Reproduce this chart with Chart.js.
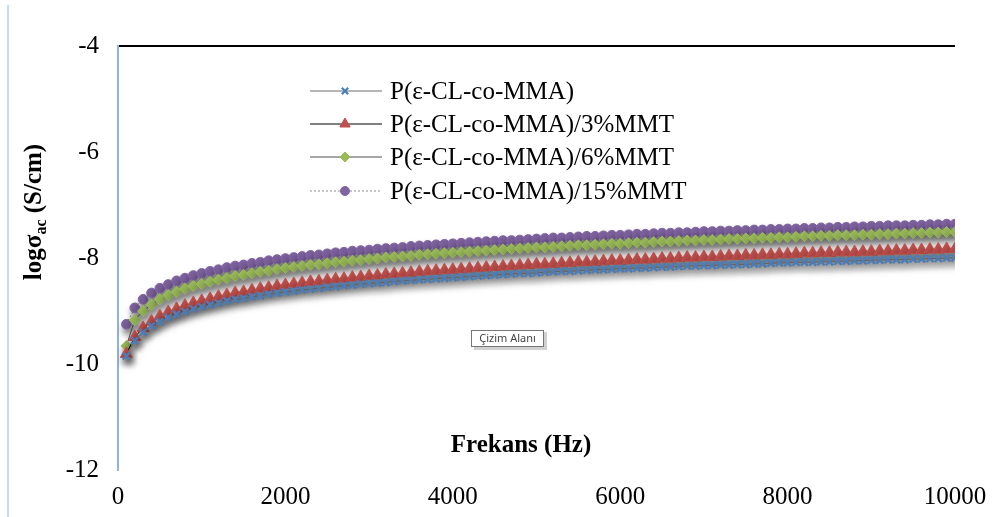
<!DOCTYPE html>
<html lang="tr">
<head>
    <meta charset="UTF-8">
    <title>logσac - Frekans</title>
    <script src="https://cdn.jsdelivr.net/npm/chart.js"></script>
    <style>
        body { margin: 0; background: #fff; }
        #kutu { position: relative; width: 992px; height: 517px; }
        #kenar { position: absolute; left: 7px; top: 5px; width: 2px; height: 512px; background: #c6d9f1; }
    </style>
</head>
<body>
    <div id="kutu">
        <canvas id="grafik" width="992" height="517"></canvas>
        <div id="kenar"></div>
    </div>

<script>
    // frekans (Hz)
    const frekans = [
        100, 200, 300, 400, 500, 600, 700, 800, 900, 1000,
        1100, 1200, 1300, 1400, 1500, 1600, 1700, 1800, 1900, 2000,
        2100, 2200, 2300, 2400, 2500, 2600, 2700, 2800, 2900, 3000,
        3100, 3200, 3300, 3400, 3500, 3600, 3700, 3800, 3900, 4000,
        4100, 4200, 4300, 4400, 4500, 4600, 4700, 4800, 4900, 5000,
        5100, 5200, 5300, 5400, 5500, 5600, 5700, 5800, 5900, 6000,
        6100, 6200, 6300, 6400, 6500, 6600, 6700, 6800, 6900, 7000,
        7100, 7200, 7300, 7400, 7500, 7600, 7700, 7800, 7900, 8000,
        8100, 8200, 8300, 8400, 8500, 8600, 8700, 8800, 8900, 9000,
        9100, 9200, 9300, 9400, 9500, 9600, 9700, 9800, 9900, 10000
    ];

    // log sigma_ac (S/cm)
    const saf = [
        -9.85, -9.56, -9.40, -9.28, -9.20, -9.12, -9.06, -9.01, -8.96, -8.92,
        -8.88, -8.85, -8.81, -8.78, -8.76, -8.73, -8.71, -8.68, -8.66, -8.64,
        -8.62, -8.60, -8.59, -8.57, -8.55, -8.54, -8.52, -8.51, -8.49, -8.48,
        -8.47, -8.46, -8.44, -8.43, -8.42, -8.41, -8.40, -8.39, -8.38, -8.37,
        -8.36, -8.35, -8.34, -8.33, -8.32, -8.31, -8.30, -8.29, -8.29, -8.28,
        -8.27, -8.26, -8.25, -8.25, -8.24, -8.23, -8.22, -8.22, -8.21, -8.20,
        -8.20, -8.19, -8.19, -8.18, -8.17, -8.17, -8.16, -8.15, -8.15, -8.14,
        -8.14, -8.13, -8.13, -8.12, -8.12, -8.11, -8.11, -8.10, -8.09, -8.09,
        -8.08, -8.08, -8.08, -8.07, -8.07, -8.06, -8.06, -8.05, -8.05, -8.04,
        -8.04, -8.03, -8.03, -8.03, -8.02, -8.02, -8.01, -8.01, -8.00, -8.00
    ];

    const mmt3 = [
        -9.81, -9.49, -9.32, -9.20, -9.10, -9.02, -8.96, -8.90, -8.85, -8.81,
        -8.77, -8.73, -8.70, -8.66, -8.64, -8.61, -8.58, -8.56, -8.53, -8.51,
        -8.49, -8.47, -8.45, -8.44, -8.42, -8.40, -8.39, -8.37, -8.36, -8.34,
        -8.33, -8.31, -8.30, -8.29, -8.28, -8.26, -8.25, -8.24, -8.23, -8.22,
        -8.21, -8.20, -8.19, -8.18, -8.17, -8.16, -8.15, -8.14, -8.13, -8.12,
        -8.12, -8.11, -8.10, -8.09, -8.08, -8.08, -8.07, -8.06, -8.05, -8.05,
        -8.04, -8.03, -8.03, -8.02, -8.01, -8.01, -8.00, -7.99, -7.99, -7.98,
        -7.98, -7.97, -7.96, -7.96, -7.95, -7.95, -7.94, -7.94, -7.93, -7.93,
        -7.92, -7.91, -7.91, -7.90, -7.90, -7.89, -7.89, -7.89, -7.88, -7.88,
        -7.87, -7.87, -7.86, -7.86, -7.85, -7.85, -7.84, -7.84, -7.83, -7.83
    ];

    const mmt6 = [
        -9.66, -9.17, -9.00, -8.88, -8.78, -8.70, -8.64, -8.58, -8.53, -8.49,
        -8.45, -8.41, -8.38, -8.34, -8.32, -8.29, -8.26, -8.24, -8.21, -8.19,
        -8.17, -8.15, -8.13, -8.12, -8.10, -8.08, -8.07, -8.05, -8.04, -8.02,
        -8.01, -7.99, -7.98, -7.97, -7.96, -7.94, -7.93, -7.92, -7.91, -7.90,
        -7.89, -7.88, -7.87, -7.86, -7.85, -7.84, -7.83, -7.82, -7.81, -7.80,
        -7.80, -7.79, -7.78, -7.77, -7.76, -7.76, -7.75, -7.74, -7.73, -7.73,
        -7.72, -7.71, -7.71, -7.70, -7.69, -7.69, -7.68, -7.67, -7.67, -7.66,
        -7.66, -7.65, -7.64, -7.64, -7.63, -7.63, -7.62, -7.62, -7.61, -7.61,
        -7.60, -7.59, -7.59, -7.58, -7.58, -7.57, -7.57, -7.57, -7.56, -7.56,
        -7.55, -7.55, -7.54, -7.54, -7.53, -7.53, -7.52, -7.52, -7.51, -7.51
    ];

    const mmt15 = [
        -9.25, -8.94, -8.78, -8.66, -8.57, -8.50, -8.43, -8.38, -8.33, -8.29,
        -8.25, -8.22, -8.18, -8.15, -8.13, -8.10, -8.08, -8.05, -8.03, -8.01,
        -7.99, -7.97, -7.95, -7.94, -7.92, -7.90, -7.89, -7.87, -7.86, -7.85,
        -7.83, -7.82, -7.81, -7.80, -7.78, -7.77, -7.76, -7.75, -7.74, -7.73,
        -7.72, -7.71, -7.70, -7.69, -7.68, -7.67, -7.67, -7.66, -7.65, -7.64,
        -7.63, -7.62, -7.62, -7.61, -7.60, -7.59, -7.59, -7.58, -7.57, -7.57,
        -7.56, -7.55, -7.55, -7.54, -7.53, -7.53, -7.52, -7.52, -7.51, -7.50,
        -7.50, -7.49, -7.49, -7.48, -7.48, -7.47, -7.47, -7.46, -7.46, -7.45,
        -7.45, -7.44, -7.44, -7.43, -7.43, -7.42, -7.42, -7.41, -7.41, -7.40,
        -7.40, -7.39, -7.39, -7.39, -7.38, -7.38, -7.37, -7.37, -7.36, -7.36
    ];

    const seriAdlari = [
        'P(ε-CL-co-MMA)',
        'P(ε-CL-co-MMA)/3%MMT',
        'P(ε-CL-co-MMA)/6%MMT',
        'P(ε-CL-co-MMA)/15%MMT'
    ];

    const xTikler = [0, 2000, 4000, 6000, 8000, 10000];
    const yTikler = [-12, -10, -8, -6, -4];

    const yazi = '"Liberation Serif", "Times New Roman", serif';

    function noktalar(dizi) {
        return dizi.map(function (v, i) { return { x: frekans[i], y: v }; });
    }

    const seriler = [
        { label: seriAdlari[0], data: noktalar(saf), borderColor: '#6f6f6f', borderWidth: 1,
          pointStyle: 'crossRot', pointRadius: 5, pointBorderWidth: 2.2,
          pointBorderColor: '#4a7ebb', pointBackgroundColor: '#4a7ebb' },
        { label: seriAdlari[1], data: noktalar(mmt3), borderColor: '#000000', borderWidth: 1,
          pointStyle: 'triangle', pointRadius: 7, pointBorderWidth: 1,
          pointBorderColor: '#c0504d', pointBackgroundColor: '#c0504d' },
        { label: seriAdlari[2], data: noktalar(mmt6), borderColor: '#4d4d4d', borderWidth: 1,
          pointStyle: 'rectRot', pointRadius: 5.5, pointBorderWidth: 1,
          pointBorderColor: '#9bbb59', pointBackgroundColor: '#9bbb59' },
        { label: seriAdlari[3], data: noktalar(mmt15), borderColor: '#8c8c8c', borderWidth: 1, borderDash: [2, 2],
          pointStyle: 'circle', pointRadius: 4.8, pointBorderWidth: 1,
          pointBorderColor: '#8064a2', pointBackgroundColor: '#8064a2' }
    ];

    // seri golgesi
    const golge = {
        id: 'golge',
        beforeDatasetsDraw(chart) {
            const ctx = chart.ctx;
            ctx.save();
            ctx.shadowColor = 'rgba(0,0,0,0.6)';
            ctx.shadowBlur = 7;
            ctx.shadowOffsetX = 2;
            ctx.shadowOffsetY = 5;
        },
        afterDatasetsDraw(chart) {
            chart.ctx.restore();
        }
    };

    // gosterge, eksen basliklari, ipucu kutusu
    const ekler = {
        id: 'ekler',
        afterDraw(chart) {
            const ctx = chart.ctx;
            const satirY = [91, 124, 157, 191];
            const legendRadius = [4.5, 6, 5, 4.5];

            ctx.save();
            chart.data.datasets.forEach(function (ds, i) {
                const y = satirY[i];
                ctx.beginPath();
                ctx.setLineDash(ds.borderDash || []);
                ctx.strokeStyle = ds.borderColor;
                ctx.lineWidth = 1;
                ctx.moveTo(310, y);
                ctx.lineTo(382, y);
                ctx.stroke();
                ctx.setLineDash([]);

                ctx.fillStyle = ds.pointBackgroundColor;
                ctx.strokeStyle = ds.pointBorderColor;
                ctx.lineWidth = ds.pointBorderWidth;
                Chart.helpers.drawPoint(ctx, {
                    pointStyle: ds.pointStyle, rotation: 0,
                    radius: legendRadius[i], borderWidth: ds.pointBorderWidth
                }, 345, y);

                ctx.fillStyle = '#000';
                ctx.font = '25px ' + yazi;
                ctx.textAlign = 'left';
                ctx.textBaseline = 'middle';
                ctx.fillText(ds.label, 390, y + 1);
            });

            // x ekseni basligi (cizim alaninin icinde)
            ctx.font = 'bold 25px ' + yazi;
            ctx.textAlign = 'center';
            ctx.textBaseline = 'middle';
            ctx.fillStyle = '#000';
            ctx.fillText('Frekans (Hz)', 521, 446);

            // y ekseni basligi: log σ_ac (S/cm)
            ctx.save();
            ctx.translate(33, 212);
            ctx.rotate(-Math.PI / 2);
            ctx.textBaseline = 'alphabetic';
            ctx.textAlign = 'left';
            const p1 = 'logσ', p2 = 'ac', p3 = ' (S/cm)';
            ctx.font = 'bold 25px ' + yazi;
            const w1 = ctx.measureText(p1).width;
            const w3 = ctx.measureText(p3).width;
            ctx.font = 'bold 16px ' + yazi;
            const w2 = ctx.measureText(p2).width;
            let x0 = -(w1 + w2 + w3) / 2;
            ctx.font = 'bold 25px ' + yazi;
            ctx.fillText(p1, x0, 8);
            ctx.font = 'bold 16px ' + yazi;
            ctx.fillText(p2, x0 + w1, 13);
            ctx.font = 'bold 25px ' + yazi;
            ctx.fillText(p3, x0 + w1 + w2, 8);
            ctx.restore();

            // Çizim Alanı ipucu
            ctx.fillStyle = 'rgba(0,0,0,0.18)';
            ctx.fillRect(474, 332, 73, 18);
            ctx.fillStyle = '#fff';
            ctx.fillRect(471, 330, 73, 17);
            ctx.strokeStyle = '#767676';
            ctx.lineWidth = 1;
            ctx.strokeRect(471.5, 330.5, 72, 16);
            ctx.fillStyle = '#444';
            ctx.font = '11px "Noto Sans", "Open Sans", sans-serif';
            ctx.textAlign = 'center';
            ctx.textBaseline = 'middle';
            ctx.fillText('Çizim Alanı', 507.5, 339);
            ctx.restore();
        }
    };

    new Chart(document.getElementById('grafik'), {
        type: 'line',
        data: { datasets: seriler },
        options: {
            responsive: false,
            animation: false,
            layout: { padding: { top: 46, right: 37, bottom: 0, left: 0 } },
            plugins: { legend: { display: false }, tooltip: { enabled: false } },
            scales: {
                x: {
                    type: 'linear',
                    min: 0,
                    max: 10000,
                    afterFit(scale) {
                        scale.height = 47;
                        scale.paddingLeft = 0;
                        scale.paddingRight = 0;
                    },
                    afterBuildTicks(scale) { scale.ticks = xTikler.map(function (v) { return { value: v }; }); },
                    grid: { display: false, drawTicks: false },
                    border: { display: false },
                    ticks: {
                        color: '#000', padding: 12, maxRotation: 0,
                        font: { family: yazi, size: 25 },
                        callback: function (v) { return String(v); }
                    }
                },
                y: {
                    min: -12,
                    max: -4,
                    afterFit(scale) {
                        scale.width = 118;
                        scale.paddingTop = 0;
                        scale.paddingBottom = 0;
                    },
                    afterBuildTicks(scale) { scale.ticks = yTikler.map(function (v) { return { value: v }; }); },
                    grid: {
                        drawTicks: false,
                        color: function (c) { return c.tick && c.tick.value === -4 ? '#000' : 'rgba(0,0,0,0)'; },
                        lineWidth: 2
                    },
                    border: { display: true, color: '#8db3e2', width: 2 },
                    ticks: {
                        color: '#000', padding: 19,
                        font: { family: yazi, size: 25 },
                        callback: function (v) { return String(v); }
                    }
                }
            }
        },
        plugins: [golge, ekler]
    });
</script>
</body>
</html>
